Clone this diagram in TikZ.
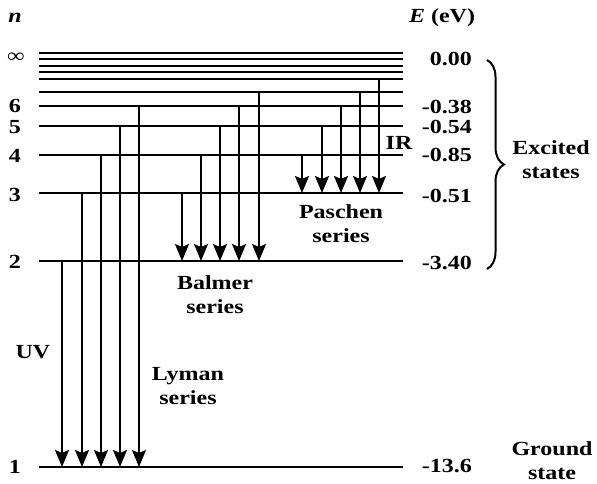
\documentclass[tikz,border=0pt]{standalone}
\usepackage{fontspec}
\setmainfont{Liberation Serif}[FakeStretch=1.2]
\usetikzlibrary{arrows.meta,decorations.pathreplacing}
\begin{document}
\begin{tikzpicture}[x=1pt,y=-1pt,
  level/.style={line width=1.9pt},
  arr/.style={line width=1.9pt,-{Stealth[length=17pt,width=14pt,inset=3pt]}},
  txt/.style={font=\fontsize{20}{24}\selectfont\bfseries, inner sep=0pt, align=center},
  brc/.style={decorate, decoration={brace, amplitude=17pt, aspect=0.5}}
]
\useasboundingbox (0,0) rectangle (597,484);
% level coordinates
\foreach \nm/\yy in {Ia/53, Ib/59, Ic/66, Id/72, L8/79, L7/92, L6/106, L5/126, L4/155, L3/193, L2/261, L1/467}{
  \coordinate (\nm) at (39,\yy);
  \coordinate (\nm r) at (403,\yy);
  \draw[level] (\nm) -- (\nm r);
}
% arrow columns
\foreach \nm/\xx in {a2/62, a3/82, a4/101, a5/120, a6/139,
                     b3/182, b4/201, b5/220, b6/239, b7/259,
                     c4/302, c5/322, c6/341, c7/360, c8/379}{
  \coordinate (\nm) at (\xx,0);
}
% Lyman
\foreach \k in {2,...,6}{ \draw[arr] (a\k |- L\k) -- (a\k |- L1); }
% Balmer
\foreach \k in {3,...,7}{ \draw[arr] (b\k |- L\k) -- (b\k |- L2); }
% Paschen
\foreach \k in {4,...,8}{ \draw[arr] (c\k |- L\k) -- (c\k |- L3); }
% headers
\node[txt, font=\fontsize{20}{24}\selectfont\bfseries\itshape] (hn) at (15,18) {n};
\node[txt] (hE) at (442,18) {\textit{E} (eV)};
% left numbers
\node[txt] (ninf) at (16,58) {∞};
\node[txt] (n6) at (15,106) {6};
\node[txt] (n5) at (15,127) {5};
\node[txt] (n4) at (15,156) {4};
\node[txt] (n3) at (15,195) {3};
\node[txt] (n2) at (15,262) {2};
\node[txt] (n1) at (15,467) {1};
% right values
\node[txt, anchor=east] (e0) at (472,59) {0.00};
\node[txt, anchor=east] (e6) at (472,107) {-0.38};
\node[txt, anchor=east] (e5) at (472,127) {-0.54};
\node[txt, anchor=east] (e4) at (472,155) {-0.85};
\node[txt, anchor=east] (e3) at (472,196) {-0.51};
\node[txt, anchor=east] (e2) at (472,263) {-3.40};
\node[txt, anchor=east] (e1) at (472,466) {-13.6};
% series labels
\node[txt] (ir) at (399,143) {IR};
\node[txt] (uv) at (33,352) {UV};
\node[txt] (lyman) at (188,386) {Lyman\\series};
\node[txt] (balmer) at (215,295) {Balmer\\series};
\node[txt] (paschen) at (341,224) {Paschen\\series};
% brace and states
\coordinate (bt) at (487,60);
\coordinate (bb) at (487,269);
\draw[brc, line width=2pt] (bt) -- (bb);
\node[txt] (exc) at (551,160) {Excited\\states};
\node[txt] (gnd) at (552,461) {Ground\\state};
\end{tikzpicture}
\end{document}
